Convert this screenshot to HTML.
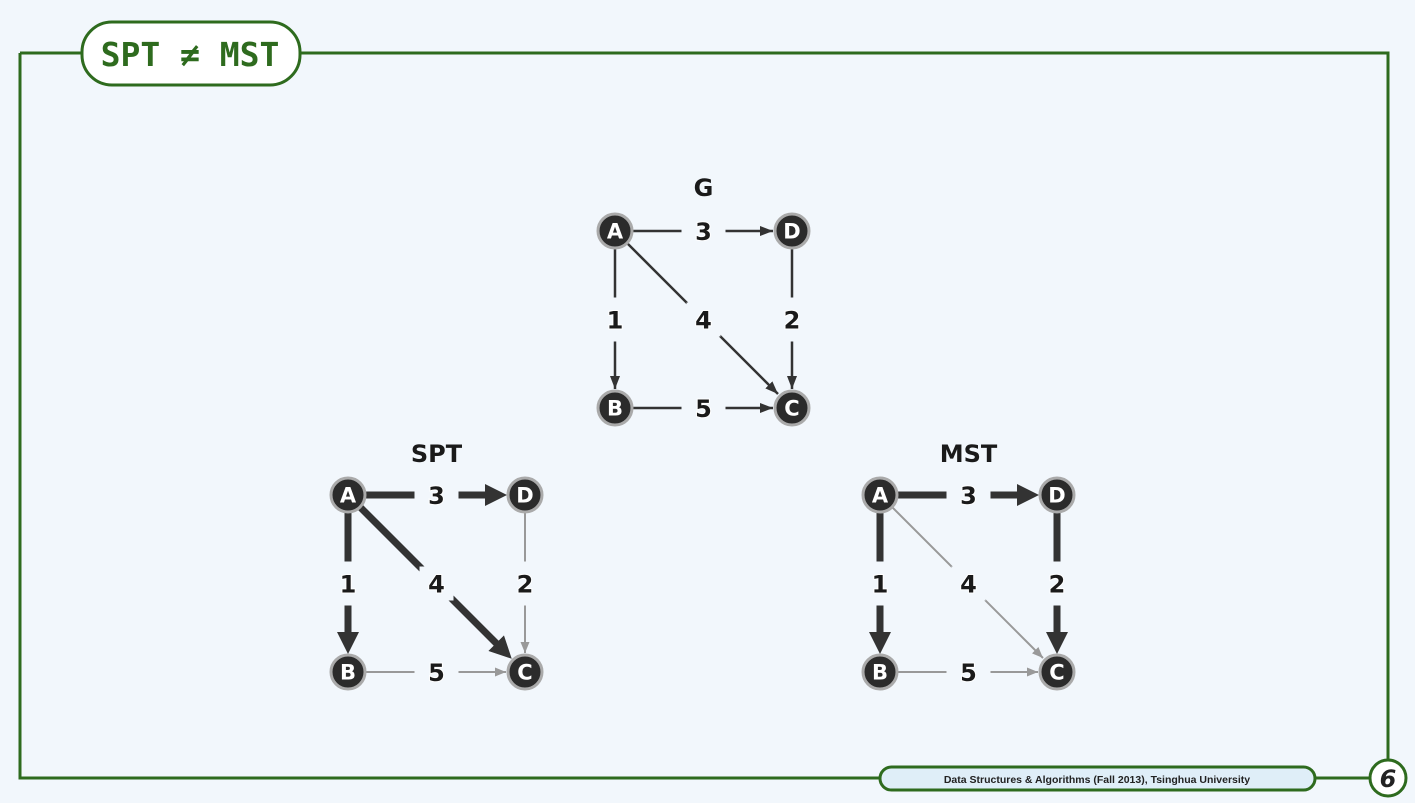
<!DOCTYPE html>
<html><head><meta charset="utf-8"><style>
html,body{margin:0;padding:0;background:#f2f7fc;}
svg{display:block}
</style></head><body>
<svg width="1415" height="803" viewBox="0 0 1415 803" xmlns="http://www.w3.org/2000/svg" font-family="DejaVu Sans, Liberation Sans, sans-serif" font-weight="bold">
<defs>
<marker id="mt" markerUnits="userSpaceOnUse" markerWidth="14" markerHeight="12" refX="13" refY="6" orient="auto"><path d="M0,1 L13,6 L0,11 Z" fill="#333"/></marker>
<marker id="mk" markerUnits="userSpaceOnUse" markerWidth="24" markerHeight="22" refX="4" refY="11" orient="auto"><path d="M0,0 L22,11 L0,22 Z" fill="#333"/></marker>
<marker id="mg" markerUnits="userSpaceOnUse" markerWidth="12" markerHeight="10" refX="11" refY="5" orient="auto"><path d="M0,0.5 L11,5 L0,9.5 Z" fill="#999"/></marker>
<g id="nodes">
<circle cx="0" cy="0" r="17" fill="#2b2b2b" stroke="#aaa" stroke-width="3"/>
<circle cx="177" cy="0" r="17" fill="#2b2b2b" stroke="#aaa" stroke-width="3"/>
<circle cx="0" cy="177" r="17" fill="#2b2b2b" stroke="#aaa" stroke-width="3"/>
<circle cx="177" cy="177" r="17" fill="#2b2b2b" stroke="#aaa" stroke-width="3"/>
<g fill="#fff" font-size="21" text-anchor="middle">
<text x="0" y="7.5">A</text><text x="177" y="7.5">D</text><text x="0" y="184.5">B</text><text x="177" y="184.5">C</text>
</g>
</g>
<g id="labels">
<rect x="-22" y="-20" width="44" height="40" fill="#f2f7fc" transform="translate(88.5,0)"/>
<rect x="-14" y="-22" width="28" height="44" fill="#f2f7fc" transform="translate(0,88.5)"/>
<rect x="-17" y="-17" width="34" height="34" fill="#f2f7fc" transform="translate(88.5,88.5)"/>
<rect x="-14" y="-22" width="28" height="44" fill="#f2f7fc" transform="translate(177,88.5)"/>
<rect x="-22" y="-20" width="44" height="40" fill="#f2f7fc" transform="translate(88.5,177)"/>
<g fill="#1a1a1a" font-size="24" text-anchor="middle" stroke="#fff" stroke-width="2" paint-order="stroke">
<text x="88.5" y="9">3</text><text x="0" y="97.5">1</text><text x="88.5" y="97.5">4</text><text x="177" y="97.5">2</text><text x="88.5" y="186">5</text>
</g>
</g>
</defs>

<g fill="none" stroke="#2e6b1e" stroke-width="3">
<path d="M20,53 H1388 V760"/>
<path d="M20,53 V778 H880"/>
<path d="M1315,778 H1370"/>
<circle cx="1388" cy="778" r="18" fill="#fff"/>
<rect x="880" y="767" width="435" height="23" rx="11.5" fill="#dfeef8"/>
<rect x="82" y="22" width="218" height="63" rx="30" fill="#fff"/>
</g>
<text x="190" y="66" text-anchor="middle" font-size="33" fill="#2e6b1e" font-family="DejaVu Sans Mono, Liberation Mono, monospace">SPT ≠ MST</text>
<text x="1097" y="783" text-anchor="middle" font-size="10.5" fill="#222" font-family="Liberation Sans, sans-serif">Data Structures &amp; Algorithms (Fall 2013), Tsinghua University</text>
<text x="1388" y="787" text-anchor="middle" font-size="24" font-style="italic" fill="#222">6</text>

<g transform="translate(615,231)">
<text x="88.5" y="-35" text-anchor="middle" font-size="24" fill="#1a1a1a">G</text>
<g stroke="#333" stroke-width="2.5" marker-end="url(#mt)">
<line x1="17" y1="0" x2="158" y2="0"/>
<line x1="0" y1="17" x2="0" y2="158"/>
<line x1="177" y1="17" x2="177" y2="158"/>
<line x1="17" y1="177" x2="158" y2="177"/>
<line x1="11" y1="11" x2="163" y2="163"/>
</g>
<use href="#labels"/><use href="#nodes"/>
</g>

<g transform="translate(348,495)">
<text x="88.5" y="-33" text-anchor="middle" font-size="24" fill="#1a1a1a">SPT</text>
<g stroke="#999" stroke-width="2" marker-end="url(#mg)">
<line x1="177" y1="17" x2="177" y2="158"/>
<line x1="17" y1="177" x2="158" y2="177"/>
</g>
<g stroke="#333" stroke-width="7" marker-end="url(#mk)">
<line x1="17" y1="0" x2="141" y2="0"/>
<line x1="0" y1="17" x2="0" y2="141"/>
<line x1="11" y1="11" x2="151" y2="151"/>
</g>
<use href="#labels"/><use href="#nodes"/>
</g>

<g transform="translate(880,495)">
<text x="88.5" y="-33" text-anchor="middle" font-size="24" fill="#1a1a1a">MST</text>
<g stroke="#999" stroke-width="2" marker-end="url(#mg)">
<line x1="11" y1="11" x2="163" y2="163"/>
<line x1="17" y1="177" x2="158" y2="177"/>
</g>
<g stroke="#333" stroke-width="7" marker-end="url(#mk)">
<line x1="17" y1="0" x2="141" y2="0"/>
<line x1="0" y1="17" x2="0" y2="141"/>
<line x1="177" y1="17" x2="177" y2="141"/>
</g>
<use href="#labels"/><use href="#nodes"/>
</g>
</svg>
</body></html>
